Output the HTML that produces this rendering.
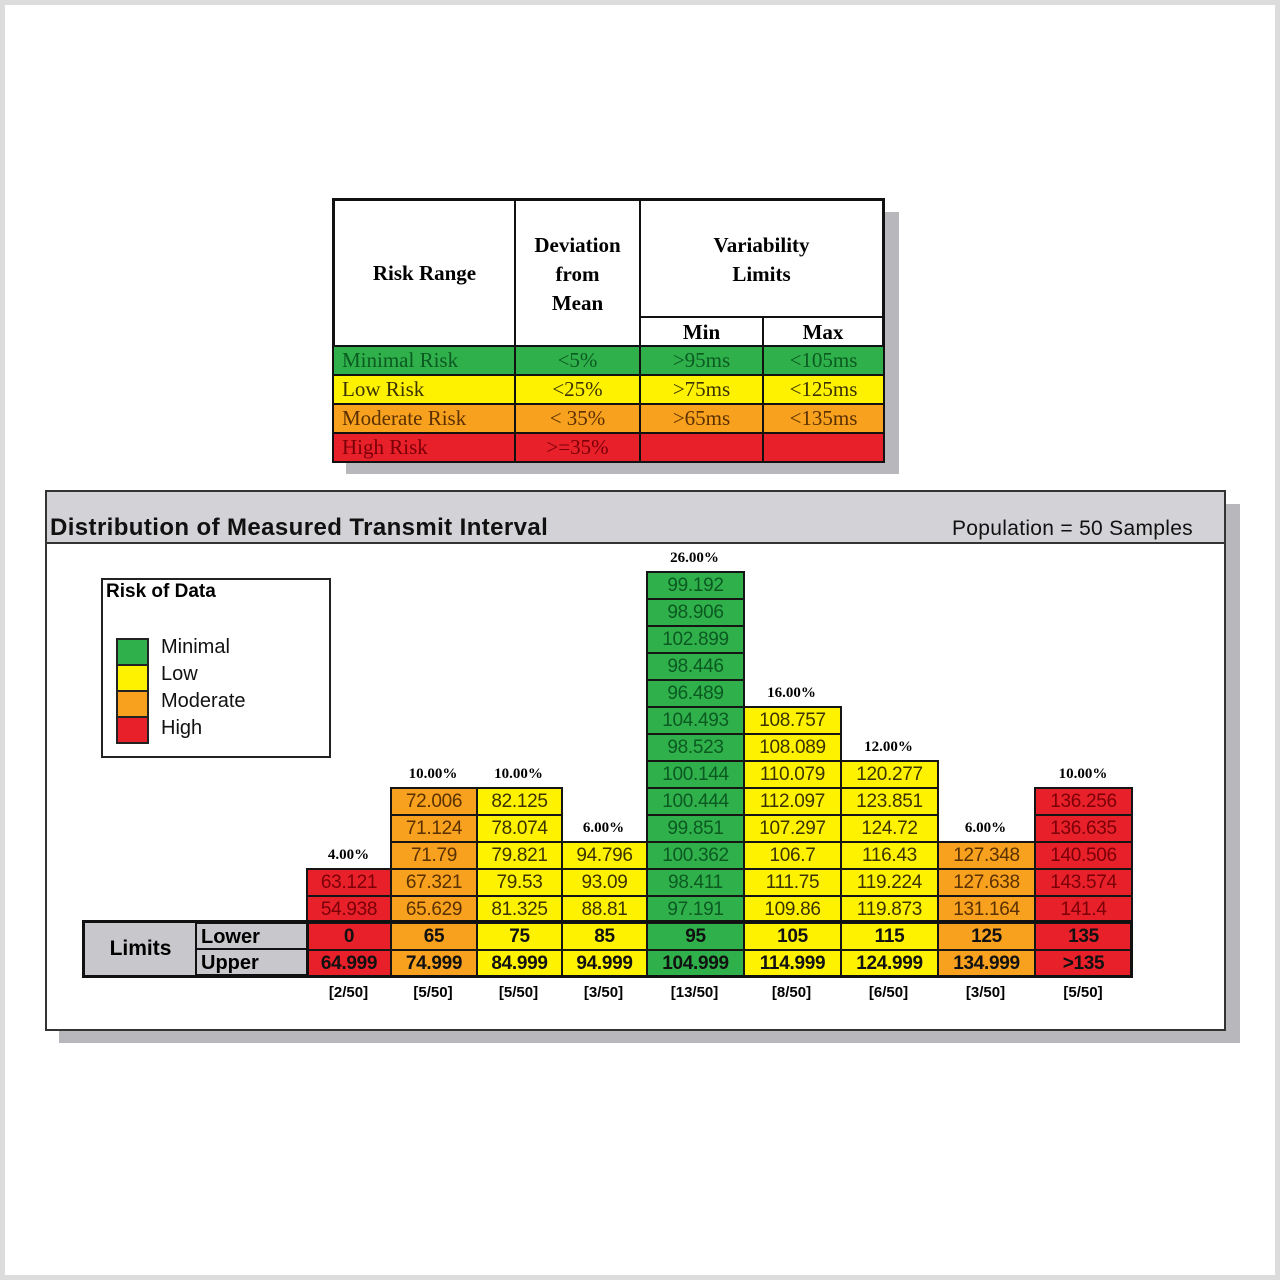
<!DOCTYPE html>
<html><head><meta charset="utf-8"><style>
*{margin:0;padding:0;box-sizing:border-box}
body{width:1280px;height:1280px;background:#fff;position:relative;overflow:hidden;font-family:"Liberation Sans",Arial,sans-serif}
.a{position:absolute}
.frame{left:0;top:0;width:1280px;height:1280px;border:5px solid #dcdcdc}
.c{position:absolute;border:2px solid #151515;height:29px;font-size:19px;line-height:25px;text-align:center;letter-spacing:-0.3px}
.G{background:#2fb04a;color:#0b5a22}.Y{background:#fff200;color:#3a3300}.O{background:#f7a11e;color:#5a3000}.R{background:#e8202a;color:#7a0008}
.p{position:absolute;font-size:15px;font-weight:bold;text-align:center;font-family:"Liberation Serif",serif}
.n{position:absolute;font-size:15px;font-weight:bold;text-align:center;top:984px}
.lim{font-weight:bold;color:#111}
.t{position:absolute;border:2px solid #111;font-family:"Liberation Serif",serif;font-weight:bold;font-size:21px;text-align:center}
.tr{position:absolute;border:2px solid #111;height:31px;font-size:21px;line-height:26px;font-family:"Liberation Serif",serif}
</style></head><body>
<div class="a frame"></div>

<!-- top table -->
<div class="a" style="left:346px;top:212px;width:553px;height:262px;background:#b8b8bc"></div>
<div class="a" style="left:332px;top:198px;width:553px;height:264px;background:#fff;border:3px solid #111"></div>
<div class="t" style="left:332px;top:198px;width:184px;height:149px;line-height:145px;border-width:3px 2px 2px 3px">Risk Range</div>
<div class="t" style="left:514px;top:198px;width:127px;height:149px;padding-top:30px;line-height:29px;border-top-width:3px">Deviation<br>from<br>Mean</div>
<div class="t" style="left:639px;top:198px;width:246px;height:120px;padding-top:30px;line-height:29px;border-width:3px 3px 2px 2px">Variability<br>Limits</div>
<div class="t" style="left:639px;top:316px;width:125px;height:31px;line-height:28px">Min</div>
<div class="t" style="left:762px;top:316px;width:123px;height:31px;line-height:28px;border-right-width:3px">Max</div>

<div class="tr G" style="left:332px;top:345px;width:184px;padding-left:8px">Minimal Risk</div>
<div class="tr G" style="left:514px;top:345px;width:127px;text-align:center">&lt;5%</div>
<div class="tr G" style="left:639px;top:345px;width:125px;text-align:center">&gt;95ms</div>
<div class="tr G" style="left:762px;top:345px;width:123px;text-align:center">&lt;105ms</div>
<div class="tr Y" style="left:332px;top:374px;width:184px;padding-left:8px">Low Risk</div>
<div class="tr Y" style="left:514px;top:374px;width:127px;text-align:center">&lt;25%</div>
<div class="tr Y" style="left:639px;top:374px;width:125px;text-align:center">&gt;75ms</div>
<div class="tr Y" style="left:762px;top:374px;width:123px;text-align:center">&lt;125ms</div>
<div class="tr O" style="left:332px;top:403px;width:184px;padding-left:8px">Moderate Risk</div>
<div class="tr O" style="left:514px;top:403px;width:127px;text-align:center">&lt; 35%</div>
<div class="tr O" style="left:639px;top:403px;width:125px;text-align:center">&gt;65ms</div>
<div class="tr O" style="left:762px;top:403px;width:123px;text-align:center">&lt;135ms</div>
<div class="tr R" style="left:332px;top:432px;width:184px;padding-left:8px;height:31px">High Risk</div>
<div class="tr R" style="left:514px;top:432px;width:127px;text-align:center">&gt;=35%</div>
<div class="tr R" style="left:639px;top:432px;width:125px"></div>
<div class="tr R" style="left:762px;top:432px;width:123px"></div>

<!-- chart panel -->
<div class="a" style="left:59px;top:504px;width:1181px;height:539px;background:#b8b8bc"></div>
<div class="a" style="left:45px;top:490px;width:1181px;height:541px;background:#fff;border:2px solid #333"></div>
<div class="a" style="left:47px;top:492px;width:1177px;height:52px;background:#d3d3d7;border-bottom:2px solid #333"></div>
<div class="a" style="left:50px;top:514px;font-size:24px;font-weight:bold;color:#111;letter-spacing:0.4px">Distribution of Measured Transmit Interval</div>
<div class="a" style="left:952px;top:517px;font-size:21px;color:#111;letter-spacing:0.3px">Population = 50 Samples</div>

<!-- legend -->
<div class="a" style="left:101px;top:578px;width:230px;height:180px;border:2px solid #222"></div>
<div class="a" style="left:106px;top:581px;font-size:19px;font-weight:bold">Risk of Data</div>
<div class="a G" style="left:116px;top:638px;width:33px;height:28px;border:2px solid #222"></div>
<div class="a Y" style="left:116px;top:664px;width:33px;height:28px;border:2px solid #222"></div>
<div class="a O" style="left:116px;top:690px;width:33px;height:28px;border:2px solid #222"></div>
<div class="a R" style="left:116px;top:716px;width:33px;height:28px;border:2px solid #222"></div>
<div class="a" style="left:161px;top:634px;font-size:20px;line-height:27px;color:#111">Minimal<br>Low<br>Moderate<br>High</div>

<!-- limits labels -->
<div class="a" style="left:82px;top:920px;width:226px;height:58px;border:3px solid #111;background:#c8c8cc"></div>
<div class="a" style="left:85px;top:923px;width:111px;height:52px;font-size:21px;font-weight:bold;line-height:52px;text-align:center">Limits</div>
<div class="a" style="left:195px;top:922px;width:111px;height:28px;border:2px solid #111;border-right:none;background:#c8c8cc;font-size:20px;font-weight:bold;padding-left:4px;line-height:26px">Lower</div>
<div class="a" style="left:195px;top:948px;width:111px;height:28px;border:2px solid #111;border-right:none;background:#c8c8cc;font-size:20px;font-weight:bold;padding-left:4px;line-height:26px">Upper</div>

<!-- col0 -->
<div class="p" style="left:306px;top:847px;width:85px">4.00%</div>
<div class="c R" style="left:306px;top:868px;width:86px">63.121</div>
<div class="c R" style="left:306px;top:895px;width:86px">54.938</div>
<div class="c R lim" style="left:306px;top:922px;width:86px">0</div>
<div class="c R lim" style="left:306px;top:949px;width:86px">64.999</div>
<div class="n" style="left:306px;width:85px">[2/50]</div>
<!-- col1 -->
<div class="p" style="left:390px;top:766px;width:86px">10.00%</div>
<div class="c O" style="left:390px;top:787px;width:88px">72.006</div>
<div class="c O" style="left:390px;top:814px;width:88px">71.124</div>
<div class="c O" style="left:390px;top:841px;width:88px">71.79</div>
<div class="c O" style="left:390px;top:868px;width:88px">67.321</div>
<div class="c O" style="left:390px;top:895px;width:88px">65.629</div>
<div class="c O lim" style="left:390px;top:922px;width:88px">65</div>
<div class="c O lim" style="left:390px;top:949px;width:88px">74.999</div>
<div class="n" style="left:390px;width:86px">[5/50]</div>
<!-- col2 -->
<div class="p" style="left:476px;top:766px;width:85px">10.00%</div>
<div class="c Y" style="left:476px;top:787px;width:87px">82.125</div>
<div class="c Y" style="left:476px;top:814px;width:87px">78.074</div>
<div class="c Y" style="left:476px;top:841px;width:87px">79.821</div>
<div class="c Y" style="left:476px;top:868px;width:87px">79.53</div>
<div class="c Y" style="left:476px;top:895px;width:87px">81.325</div>
<div class="c Y lim" style="left:476px;top:922px;width:87px">75</div>
<div class="c Y lim" style="left:476px;top:949px;width:87px">84.999</div>
<div class="n" style="left:476px;width:85px">[5/50]</div>
<!-- col3 -->
<div class="p" style="left:561px;top:820px;width:85px">6.00%</div>
<div class="c Y" style="left:561px;top:841px;width:87px">94.796</div>
<div class="c Y" style="left:561px;top:868px;width:87px">93.09</div>
<div class="c Y" style="left:561px;top:895px;width:87px">88.81</div>
<div class="c Y lim" style="left:561px;top:922px;width:87px">85</div>
<div class="c Y lim" style="left:561px;top:949px;width:87px">94.999</div>
<div class="n" style="left:561px;width:85px">[3/50]</div>
<!-- col4 -->
<div class="p" style="left:646px;top:550px;width:97px">26.00%</div>
<div class="c G" style="left:646px;top:571px;width:99px">99.192</div>
<div class="c G" style="left:646px;top:598px;width:99px">98.906</div>
<div class="c G" style="left:646px;top:625px;width:99px">102.899</div>
<div class="c G" style="left:646px;top:652px;width:99px">98.446</div>
<div class="c G" style="left:646px;top:679px;width:99px">96.489</div>
<div class="c G" style="left:646px;top:706px;width:99px">104.493</div>
<div class="c G" style="left:646px;top:733px;width:99px">98.523</div>
<div class="c G" style="left:646px;top:760px;width:99px">100.144</div>
<div class="c G" style="left:646px;top:787px;width:99px">100.444</div>
<div class="c G" style="left:646px;top:814px;width:99px">99.851</div>
<div class="c G" style="left:646px;top:841px;width:99px">100.362</div>
<div class="c G" style="left:646px;top:868px;width:99px">98.411</div>
<div class="c G" style="left:646px;top:895px;width:99px">97.191</div>
<div class="c G lim" style="left:646px;top:922px;width:99px">95</div>
<div class="c G lim" style="left:646px;top:949px;width:99px">104.999</div>
<div class="n" style="left:646px;width:97px">[13/50]</div>
<!-- col5 -->
<div class="p" style="left:743px;top:685px;width:97px">16.00%</div>
<div class="c Y" style="left:743px;top:706px;width:99px">108.757</div>
<div class="c Y" style="left:743px;top:733px;width:99px">108.089</div>
<div class="c Y" style="left:743px;top:760px;width:99px">110.079</div>
<div class="c Y" style="left:743px;top:787px;width:99px">112.097</div>
<div class="c Y" style="left:743px;top:814px;width:99px">107.297</div>
<div class="c Y" style="left:743px;top:841px;width:99px">106.7</div>
<div class="c Y" style="left:743px;top:868px;width:99px">111.75</div>
<div class="c Y" style="left:743px;top:895px;width:99px">109.86</div>
<div class="c Y lim" style="left:743px;top:922px;width:99px">105</div>
<div class="c Y lim" style="left:743px;top:949px;width:99px">114.999</div>
<div class="n" style="left:743px;width:97px">[8/50]</div>
<!-- col6 -->
<div class="p" style="left:840px;top:739px;width:97px">12.00%</div>
<div class="c Y" style="left:840px;top:760px;width:99px">120.277</div>
<div class="c Y" style="left:840px;top:787px;width:99px">123.851</div>
<div class="c Y" style="left:840px;top:814px;width:99px">124.72</div>
<div class="c Y" style="left:840px;top:841px;width:99px">116.43</div>
<div class="c Y" style="left:840px;top:868px;width:99px">119.224</div>
<div class="c Y" style="left:840px;top:895px;width:99px">119.873</div>
<div class="c Y lim" style="left:840px;top:922px;width:99px">115</div>
<div class="c Y lim" style="left:840px;top:949px;width:99px">124.999</div>
<div class="n" style="left:840px;width:97px">[6/50]</div>
<!-- col7 -->
<div class="p" style="left:937px;top:820px;width:97px">6.00%</div>
<div class="c O" style="left:937px;top:841px;width:99px">127.348</div>
<div class="c O" style="left:937px;top:868px;width:99px">127.638</div>
<div class="c O" style="left:937px;top:895px;width:99px">131.164</div>
<div class="c O lim" style="left:937px;top:922px;width:99px">125</div>
<div class="c O lim" style="left:937px;top:949px;width:99px">134.999</div>
<div class="n" style="left:937px;width:97px">[3/50]</div>
<!-- col8 -->
<div class="p" style="left:1034px;top:766px;width:98px">10.00%</div>
<div class="c R" style="left:1034px;top:787px;width:99px">136.256</div>
<div class="c R" style="left:1034px;top:814px;width:99px">136.635</div>
<div class="c R" style="left:1034px;top:841px;width:99px">140.506</div>
<div class="c R" style="left:1034px;top:868px;width:99px">143.574</div>
<div class="c R" style="left:1034px;top:895px;width:99px">141.4</div>
<div class="c R lim" style="left:1034px;top:922px;width:99px">135</div>
<div class="c R lim" style="left:1034px;top:949px;width:99px">&gt;135</div>
<div class="n" style="left:1034px;width:98px">[5/50]</div>
<div class="a" style="left:306px;top:920px;width:827px;height:58px;border:3px solid #111"></div>
</body></html>
